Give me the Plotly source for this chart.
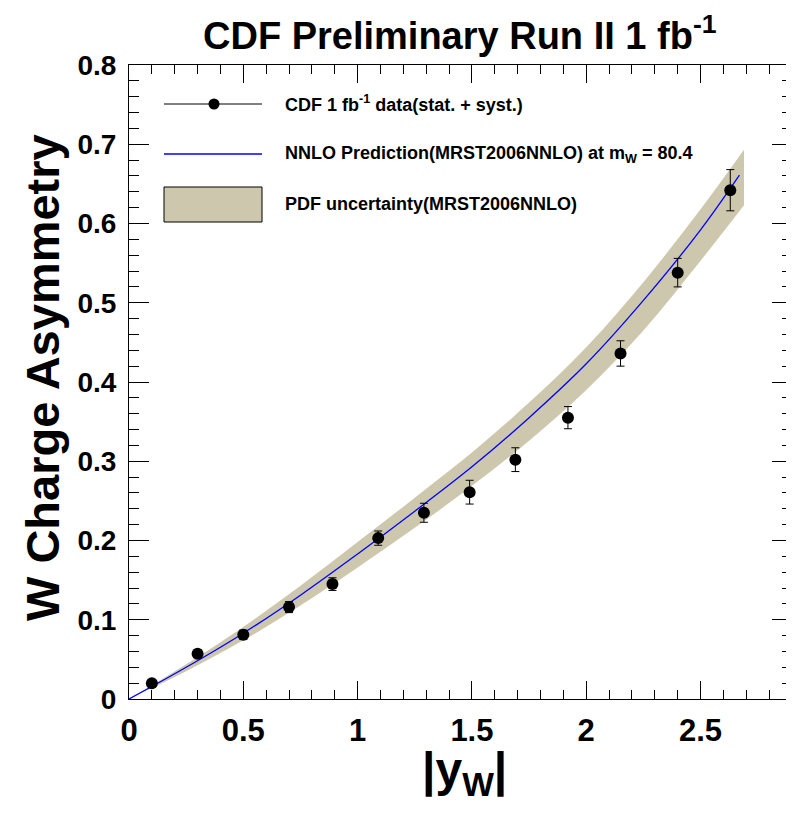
import plotly.graph_objects as go

# CDF W charge asymmetry data
y_w = [0.10, 0.30, 0.50, 0.70, 0.89, 1.09, 1.29, 1.49, 1.69, 1.92, 2.15, 2.40, 2.63]
asym = [0.020, 0.057, 0.081, 0.116, 0.145, 0.203, 0.235, 0.261, 0.302, 0.355, 0.436, 0.538, 0.642]
asym_err = [0.004, 0.005, 0.006, 0.007, 0.008, 0.009, 0.012, 0.015, 0.015, 0.014, 0.016, 0.018, 0.026]

# NNLO prediction and PDF band
pred_x = [0.0, 0.25, 0.5, 0.75, 1.0, 1.25, 1.5, 1.75, 2.0, 2.25, 2.5, 2.67]
pred_y = [0.0, 0.040, 0.083, 0.131, 0.183, 0.237, 0.293, 0.355, 0.423, 0.503, 0.592, 0.661]
band_x = [0.0, 0.25, 0.5, 0.75, 1.0, 1.25, 1.5, 1.75, 2.0, 2.25, 2.5, 2.69]
band_hi = [0.0, 0.044, 0.091, 0.143, 0.198, 0.254, 0.311, 0.374, 0.444, 0.526, 0.618, 0.693]
band_lo = [0.0, 0.035, 0.074, 0.118, 0.166, 0.216, 0.269, 0.326, 0.390, 0.465, 0.553, 0.623]

BAND = "#cdc7ae"
FONT = "Liberation Sans, Arial, sans-serif"

fig = go.Figure()

# PDF band: lower edge, then upper edge filled down to it
fig.add_trace(go.Scatter(x=band_x, y=band_lo, mode="lines", line=dict(width=0, color=BAND),
                         line_shape="spline", hoverinfo="skip"))
fig.add_trace(go.Scatter(x=band_x, y=band_hi, mode="lines", line=dict(width=0, color=BAND),
                         line_shape="spline", fill="tonexty", fillcolor=BAND, hoverinfo="skip"))

fig.add_trace(go.Scatter(
    x=pred_x, y=pred_y, mode="lines", line=dict(color="#0000ff", width=1.3),
    line_shape="spline"))

fig.add_trace(go.Scatter(
    x=y_w, y=asym, mode="markers",
    marker=dict(color="black", size=12),
    error_y=dict(type="data", array=asym_err, color="black", thickness=1, width=4)))

# hand-drawn legend, ROOT style (page pixels -> paper coords)
def px(x):
    return (x - 129) / 663

def py(y):
    return (699 - y) / 634

shapes = [
    dict(type="line", xref="paper", yref="paper", x0=px(164), x1=px(262), y0=py(104), y1=py(104),
         line=dict(color="black", width=1)),
    dict(type="circle", xref="paper", yref="paper", x0=px(208.5), x1=px(219.5), y0=py(109.5), y1=py(98.5),
         fillcolor="black", line=dict(color="black", width=0)),
    dict(type="line", xref="paper", yref="paper", x0=px(164), x1=px(262), y0=py(154), y1=py(154),
         line=dict(color="#0000ff", width=1.3)),
    dict(type="rect", xref="paper", yref="paper", x0=px(164), x1=px(262), y0=py(222), y1=py(187),
         fillcolor=BAND, line=dict(color="black", width=1)),
]

leg_font = dict(family=FONT, size=18, color="black", weight="bold")
annotations = [
    dict(text="CDF 1 fb<sup>-1</sup> data(stat. + syst.)", x=px(283), y=py(104)),
    dict(text="NNLO Prediction(MRST2006NNLO) at m<sub>W</sub> = 80.4", x=px(283), y=py(154)),
    dict(text="PDF uncertainty(MRST2006NNLO)", x=px(283), y=py(204)),
]
for a in annotations:
    a.update(xref="paper", yref="paper", xanchor="left", yanchor="middle", showarrow=False, font=leg_font)

annotations += [
    dict(text="CDF Preliminary Run II 1 fb<sup>-1</sup>", xref="paper", yref="paper",
         x=px(460), y=py(33), xanchor="center", yanchor="middle", showarrow=False,
         font=dict(family=FONT, size=38, color="black", weight="bold")),
    dict(text="W Charge Asymmetry", xref="paper", yref="paper", x=px(42), y=py(378),
         xanchor="center", yanchor="middle", textangle=-90, showarrow=False,
         font=dict(family=FONT, size=47, color="black", weight="bold")),
    dict(text="|y<sub>W</sub>|", xref="paper", yref="paper", x=px(464), y=py(773),
         xanchor="center", yanchor="middle", showarrow=False,
         font=dict(family=FONT, size=48, color="black", weight="bold")),
]

axis_common = dict(showline=True, linecolor="black", linewidth=1, mirror="ticks",
                   ticks="inside", tickcolor="black", showgrid=False, zeroline=False)

# the page body adds an 8px offset, so the figure is 8px smaller with margins shifted
fig.update_layout(
    width=786, height=813,
    margin=dict(l=121, r=2, t=57, b=122),
    plot_bgcolor="white", paper_bgcolor="white",
    showlegend=False,
    shapes=shapes, annotations=annotations,
    xaxis=dict(range=[0, 2.9], dtick=0.5, tick0=0, ticklen=18,
               minor=dict(dtick=0.1, ticklen=9, ticks="inside", tickcolor="black"),
               tickfont=dict(family=FONT, size=31, color="black", weight="bold"),
               ticklabelstandoff=4, **axis_common),
    yaxis=dict(range=[0, 0.8], dtick=0.1, tick0=0, ticklen=20,
               minor=dict(dtick=0.02, ticklen=10, ticks="inside", tickcolor="black"),
               tickfont=dict(family=FONT, size=28, color="black", weight="bold"),
               ticklabelstandoff=6, **axis_common),
)

fig.write_html("out.html")
